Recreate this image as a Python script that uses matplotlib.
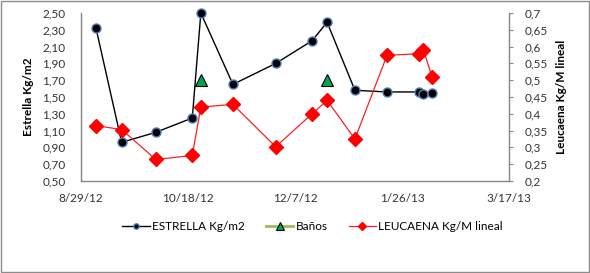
import matplotlib
matplotlib.use("Agg")
import matplotlib.pyplot as plt
import matplotlib.dates as mdates
from matplotlib.ticker import FuncFormatter, FixedLocator
from matplotlib.patches import Rectangle
import numpy as np
import datetime as dt

plt.rcParams['font.family'] = ['Lato', 'DejaVu Sans']

dates = ["2012-09-05", "2012-09-17", "2012-10-03", "2012-10-20", "2012-10-24",
         "2012-11-08", "2012-11-28", "2012-12-15", "2012-12-22", "2013-01-04",
         "2013-01-19", "2013-02-03", "2013-02-05", "2013-02-09"]
estrella = [2.32, 0.96, 1.08, 1.25, 2.50, 1.65, 1.90, 2.17, 2.39, 1.58, 1.56, 1.56, 1.53, 1.55]
banos = [None, None, None, None, 1.70, None, None, None, 1.70, None, None, None, None, None]
leucaena = [0.365, 0.353, 0.264, 0.276, 0.42, 0.428, 0.302, 0.40, 0.44, 0.325, 0.574, 0.579, 0.591, 0.51]
x_ticks = ["2012-08-29", "2012-10-18", "2012-12-07", "2013-01-26", "2013-03-17"]
left_ticks = [0.50, 0.70, 0.90, 1.10, 1.30, 1.50, 1.70, 1.90, 2.10, 2.30, 2.50]
right_ticks = [0.2, 0.25, 0.3, 0.35, 0.4, 0.45, 0.5, 0.55, 0.6, 0.65, 0.7]

d = [dt.datetime.fromisoformat(s) for s in dates]
xt = [dt.datetime.fromisoformat(s) for s in x_ticks]
b = np.array([np.nan if v is None else v for v in banos], dtype=float)

fig = plt.figure(figsize=(5.9, 2.73), dpi=100)
fig.patches.append(Rectangle((0.001, 0.002), 0.997, 0.995, transform=fig.transFigure,
                             fill=False, edgecolor='#8c8c8c', linewidth=1.0))
ax = fig.add_axes([81/590, 1-181/273, 428/590, 168/273])
ax2 = ax.twinx()

gray = '#868686'
ax.plot(d, estrella, color='black', lw=1.0, marker='o', ms=6.5, mfc='black',
        mec='#4F81BD', mew=1.0, label='ESTRELLA Kg/m2', zorder=3, clip_on=False)
ax.plot(d, b, color='#9BBB59', lw=2, marker='^', ms=9, mfc='#00A550',
        mec='black', mew=0.8, label='Baños', zorder=3, clip_on=False)
ax2.plot(d, leucaena, color='#FF2020', lw=0.9, marker='D', ms=7.5, mfc='#FF0000',
         mec='#FF0000', label='LEUCAENA Kg/M lineal', zorder=3, clip_on=False)

ax.set_xlim(xt[0], xt[-1])
ax.set_xticks(xt)
ax.xaxis.set_major_formatter(FuncFormatter(
    lambda v, p: (lambda t: f"{t.month}/{t.day}/{t.year % 100}")(mdates.num2date(v))))
ax.set_ylim(left_ticks[0], left_ticks[-1])
ax.yaxis.set_major_locator(FixedLocator(left_ticks))
ax.yaxis.set_major_formatter(FuncFormatter(lambda v, p: f"{v:.2f}".replace('.', ',')))
ax2.set_ylim(right_ticks[0], right_ticks[-1])
ax2.yaxis.set_major_locator(FixedLocator(right_ticks))
def rfmt(v, p):
    s = f"{v:.2f}".rstrip('0').rstrip('.')
    return s.replace('.', ',')
ax2.yaxis.set_major_formatter(FuncFormatter(rfmt))

for a in (ax, ax2):
    a.spines['top'].set_visible(False)
    for s in ('left', 'right', 'bottom'):
        a.spines[s].set_color(gray)
        a.spines[s].set_linewidth(1.0)
ax.spines['right'].set_visible(False)
ax2.spines['left'].set_visible(False)
ax2.spines['bottom'].set_visible(False)

ax.tick_params(axis='y', length=0, pad=11, labelsize=8.5, colors='#333333')
ax.tick_params(axis='x', length=0, pad=9, labelsize=8.5, colors='#333333')
ax2.tick_params(axis='y', length=3, direction='out', color=gray, pad=8, labelsize=8.5,
                labelcolor='#333333')

ax.set_ylabel('Estrella Kg/m2', fontsize=8.5, fontweight='bold', labelpad=6)
ax2.set_ylabel('Leucaena Kg/M lineal', fontsize=8.5, fontweight='bold', labelpad=6)

h1, l1 = ax.get_legend_handles_labels()
h2, l2 = ax2.get_legend_handles_labels()
fig.legend(h1 + h2, l1 + l2, loc='center', bbox_to_anchor=(0.53, 1-227/273), ncol=3,
           frameon=False, fontsize=8.5, handlelength=2.3, columnspacing=1.8,
           handletextpad=0.2, markerscale=0.6)

fig.savefig('out.png', dpi=100)
